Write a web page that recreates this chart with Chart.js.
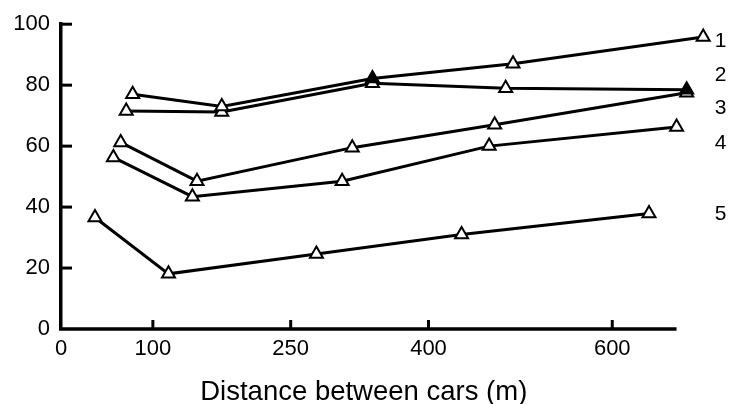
<!DOCTYPE html>
<html>
<head>
<meta charset="utf-8">
<script src="https://cdn.jsdelivr.net/npm/chart.js@4/dist/chart.umd.min.js"></script>
<style>
  html, body { margin: 0; padding: 0; background: #fff; }
  #wrap { width: 732px; height: 404px; position: relative; }
</style>
</head>
<body>
<div id="wrap"><canvas id="c" width="732" height="404"></canvas></div>
<script>
// ---- data ----
const xTickValues = [0, 100, 250, 400, 600];
const yTickValues = [0, 20, 40, 60, 80, 100];
const axisEndX = 670;

const s1x = [78, 175, 339, 492, 699];
const s1y = [77, 73, 82.2, 87, 95.8];
const s2x = [71, 175, 339, 484, 681];
const s2y = [71.5, 71.2, 80.6, 79, 78.5];
const s3x = [65, 148, 317, 472, 681];
const s3y = [61.2, 48.5, 59.5, 67, 77.5];
const s4x = [57, 143, 306, 466, 670];
const s4y = [56.3, 43.4, 48.5, 60, 66.3];
const s5x = [37, 117, 278, 436, 640];
const s5y = [36.6, 18.1, 24.6, 31, 37.9];

const seriesNames = ['1', '2', '3', '4', '5'];
const seriesLabelX = [718, 718, 718, 718, 718];
const seriesLabelY = [94.5, 83.3, 72.5, 61, 37.5];

const xTitle = 'Distance between cars (m)';

const FONT = '"Liberation Sans", Arial, Helvetica, sans-serif';

function pts(xs, ys) { return xs.map((x, i) => ({ x: x, y: ys[i] })); }

function ds(xs, ys, fills) {
  return {
    data: pts(xs, ys),
    borderColor: '#000',
    borderWidth: 3,
    pointStyle: 'triangle',
    pointRadius: 7.5,
    pointBorderWidth: 2,
    pointBorderColor: '#000',
    pointBackgroundColor: fills || '#fff',
    tension: 0,
    fill: false,
    clip: false
  };
}

const decor = {
  id: 'decor',
  afterDraw(chart) {
    const ctx = chart.ctx;
    const xs = chart.scales.x, ys = chart.scales.y;
    const area = chart.chartArea;
    const xEnd = xs.getPixelForValue(axisEndX);
    ctx.save();
    ctx.strokeStyle = '#000';
    ctx.lineCap = 'butt';
    // x axis line up to axisEndX
    ctx.lineWidth = 3.5;
    ctx.beginPath();
    ctx.moveTo(area.left - 2, area.bottom);
    ctx.lineTo(xEnd, area.bottom);
    ctx.stroke();
    // inward ticks
    ctx.lineWidth = 3;
    yTickValues.forEach(v => {
      if (v === 0) return;
      const py = ys.getPixelForValue(v);
      ctx.beginPath();
      ctx.moveTo(area.left, py);
      ctx.lineTo(area.left + 11, py);
      ctx.stroke();
    });
    xTickValues.forEach(v => {
      if (v === 0) return;
      const px = xs.getPixelForValue(v);
      ctx.beginPath();
      ctx.moveTo(px, area.bottom);
      ctx.lineTo(px, area.bottom - 9);
      ctx.stroke();
    });
    ctx.fillStyle = '#000';
    // series labels
    ctx.font = '21px ' + FONT;
    ctx.textAlign = 'center';
    ctx.textBaseline = 'middle';
    seriesNames.forEach((n, i) => {
      ctx.fillText(n, xs.getPixelForValue(seriesLabelX[i]), ys.getPixelForValue(seriesLabelY[i]));
    });
    // axis title centred under the drawn axis line
    ctx.font = '27.5px ' + FONT;
    ctx.textBaseline = 'alphabetic';
    ctx.fillText(xTitle, (area.left + xEnd) / 2 - 5, area.bottom + 71);
    ctx.restore();
  }
};

new Chart(document.getElementById('c'), {
  type: 'line',
  data: {
    datasets: [
      ds(s1x, s1y, ['#fff', '#fff', '#000', '#fff', '#fff']),
      ds(s2x, s2y, ['#fff', '#fff', '#fff', '#fff', '#000']),
      ds(s3x, s3y),
      ds(s4x, s4y),
      ds(s5x, s5y)
    ]
  },
  options: {
    responsive: false,
    animation: false,
    devicePixelRatio: 1,
    layout: { padding: { left: 0, right: 3.6, top: 20, bottom: 0 } },
    plugins: { legend: { display: false }, tooltip: { enabled: false } },
    scales: {
      x: {
        type: 'linear',
        min: 0,
        max: 720,
        afterBuildTicks(scale) { scale.ticks = xTickValues.map(v => ({ value: v })); },
        afterFit(scale) { scale.height = 75; },
        grid: { display: false, drawTicks: false },
        border: { display: false },
        ticks: {
          color: '#000',
          font: { family: FONT, size: 22 },
          padding: 7,
          maxRotation: 0,
          autoSkip: false
        },
        title: { display: false }
      },
      y: {
        type: 'linear',
        min: 0,
        max: 100,
        afterBuildTicks(scale) { scale.ticks = yTickValues.map(v => ({ value: v })); },
        afterFit(scale) { scale.width = 61; },
        grid: { display: false, drawTicks: false },
        border: { display: true, color: '#000', width: 3.5 },
        ticks: {
          color: '#000',
          font: { family: FONT, size: 22 },
          padding: 11
        }
      }
    }
  },
  plugins: [decor]
});
</script>
</body>
</html>
